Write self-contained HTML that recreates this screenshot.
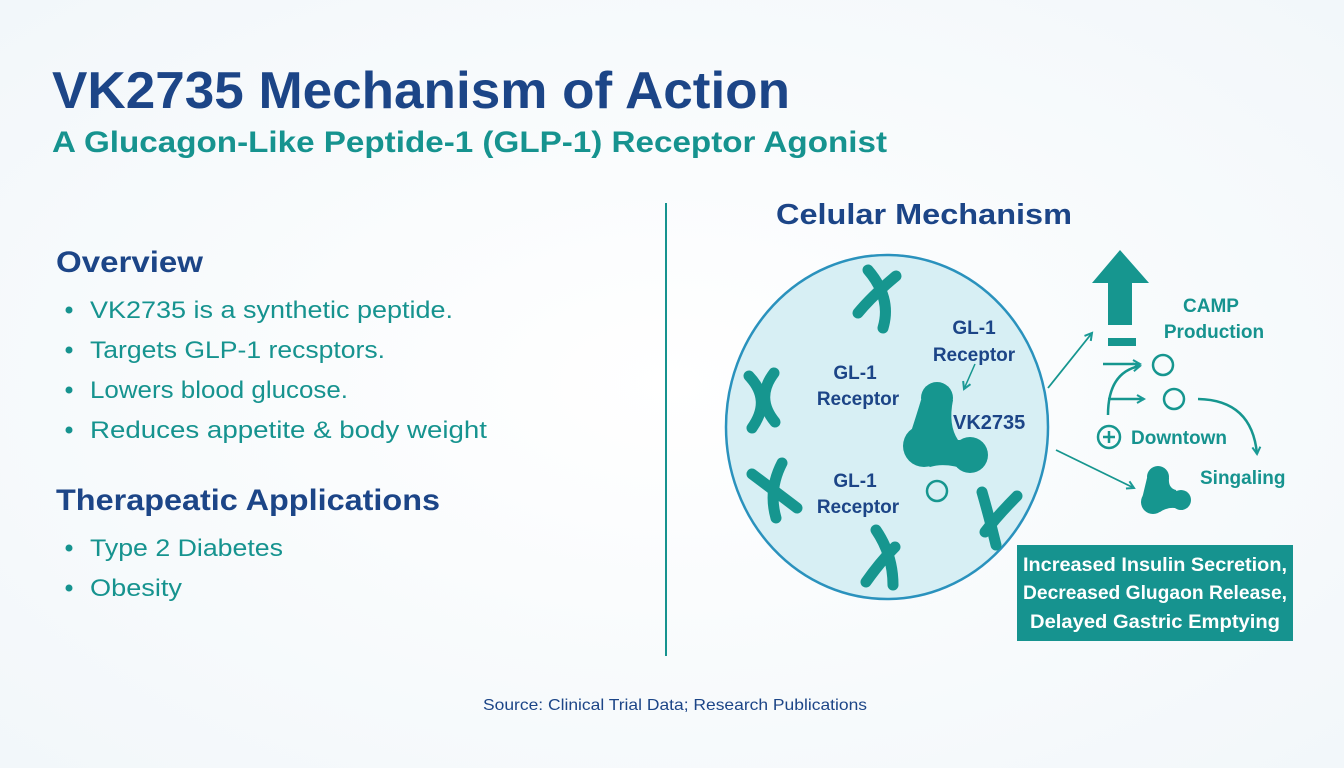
<!DOCTYPE html>
<html><head><meta charset="utf-8"><style>
html,body{margin:0;padding:0;background:#fbfdfe;}
svg{display:block;}
text{font-family:"Liberation Sans",sans-serif;}
</style></head><body>
<svg width="1344" height="768" viewBox="0 0 1344 768" xmlns="http://www.w3.org/2000/svg">
<defs>
<marker id="ah" markerWidth="10" markerHeight="10" refX="8" refY="5" orient="auto" markerUnits="userSpaceOnUse"><path d="M1,1 L8,5 L1,9" fill="none" stroke="#1a9a96" stroke-width="2"/></marker>
<radialGradient id="bg" cx="0.5" cy="0.5" r="0.7"><stop offset="0" stop-color="#ffffff"/><stop offset="1" stop-color="#f2f7fa"/></radialGradient>
</defs>
<rect width="1344" height="768" fill="url(#bg)"/>
<text x="52" y="108" font-size="52" font-weight="bold" fill="#1c4587" textLength="738" lengthAdjust="spacingAndGlyphs">VK2735 Mechanism of Action</text>
<text x="52" y="152" font-size="30" font-weight="bold" fill="#16938f" textLength="835" lengthAdjust="spacingAndGlyphs">A Glucagon-Like Peptide-1 (GLP-1) Receptor Agonist</text>

<text x="56" y="272" font-size="30" font-weight="bold" fill="#1c4587" textLength="147" lengthAdjust="spacingAndGlyphs">Overview</text>
<g fill="#16938f" font-size="24">
<circle cx="69" cy="310" r="3.5"/><text x="90" y="318" textLength="363" lengthAdjust="spacingAndGlyphs">VK2735 is a synthetic peptide.</text>
<circle cx="69" cy="350" r="3.5"/><text x="90" y="358" textLength="295" lengthAdjust="spacingAndGlyphs">Targets GLP-1 recsptors.</text>
<circle cx="69" cy="390" r="3.5"/><text x="90" y="398" textLength="258" lengthAdjust="spacingAndGlyphs">Lowers blood glucose.</text>
<circle cx="69" cy="430" r="3.5"/><text x="90" y="438" textLength="397" lengthAdjust="spacingAndGlyphs">Reduces appetite &amp; body weight</text>
</g>
<text x="56" y="510" font-size="30" font-weight="bold" fill="#1c4587" textLength="384" lengthAdjust="spacingAndGlyphs">Therapeatic Applications</text>
<g fill="#16938f" font-size="24">
<circle cx="69" cy="548" r="3.5"/><text x="90" y="556" textLength="193" lengthAdjust="spacingAndGlyphs">Type 2 Diabetes</text>
<circle cx="69" cy="588" r="3.5"/><text x="90" y="596" textLength="92" lengthAdjust="spacingAndGlyphs">Obesity</text>
</g>
<line x1="666" y1="203" x2="666" y2="656" stroke="#16938f" stroke-width="2"/>

<text x="776" y="224" font-size="29" font-weight="bold" fill="#1c4587" textLength="296" lengthAdjust="spacingAndGlyphs">Celular Mechanism</text>

<ellipse cx="887" cy="427" rx="161" ry="172" fill="#d7eff4" stroke="#2a92bd" stroke-width="2.5"/>

<g fill="none" stroke="#16968f" stroke-width="11" stroke-linecap="round">
<path d="M868,270 Q892,298 883,328"/>
<path d="M896,276 Q872,296 858,313"/>
<path d="M749,376 Q772,400 752,428"/>
<path d="M774,373 Q755,398 775,422"/>
<path d="M752,474 Q780,495 797,508"/>
<path d="M782,463 Q768,490 776,518"/>
<path d="M866,582 Q880,562 895,547"/>
<path d="M876,530 Q893,555 893,585"/>
<path d="M982,492 Q990,520 996,545"/>
<path d="M1017,496 Q998,515 985,532"/>
</g>

<g fill="#16968f">
<circle cx="937" cy="398" r="16"/>
<circle cx="924" cy="446" r="21"/>
<circle cx="970" cy="455" r="18"/>
<path d="M921,400 L953,400 Q948,425 958,440 L975,440 L968,470 Q945,462 930,467 L905,450 Q915,420 921,400 Z"/>
</g>
<g fill="#16968f">
<circle cx="1158" cy="477" r="11"/>
<circle cx="1153" cy="502" r="12"/>
<circle cx="1181" cy="500" r="10"/>
<path d="M1147,478 L1169,478 Q1168,488 1176,490 L1183,510 Q1170,505 1160,512 L1141,503 Z"/>
</g>

<g font-size="19" font-weight="bold" fill="#1c4587" text-anchor="middle">
<text x="974" y="334">GL-1</text><text x="974" y="361">Receptor</text>
<text x="855" y="379">GL-1</text><text x="858" y="405">Receptor</text>
<text x="855" y="487">GL-1</text><text x="858" y="513">Receptor</text>
</g>
<text x="953" y="429" font-size="20" font-weight="bold" fill="#1c4587">VK2735</text>
<line x1="975" y1="364" x2="964" y2="389" stroke="#16968f" stroke-width="1.5" marker-end="url(#ah)"/>
<circle cx="937" cy="491" r="10" fill="none" stroke="#16968f" stroke-width="2.5"/>

<path d="M1092,283 L1120,250 L1149,283 L1132,283 L1132,325 L1108,325 L1108,283 Z" fill="#16968f"/>
<rect x="1108" y="338" width="28" height="8" fill="#16968f"/>
<line x1="1048" y1="388" x2="1092" y2="333" stroke="#16968f" stroke-width="1.8" marker-end="url(#ah)"/>
<line x1="1056" y1="450" x2="1134" y2="488" stroke="#16968f" stroke-width="1.8" marker-end="url(#ah)"/>
<text x="1211" y="312" font-size="19" font-weight="bold" fill="#16938f" text-anchor="middle">CAMP</text>
<text x="1214" y="338" font-size="19" font-weight="bold" fill="#16938f" text-anchor="middle">Production</text>
<g fill="none" stroke="#16968f" stroke-width="2.5">
<circle cx="1163" cy="365" r="10"/><circle cx="1174" cy="399" r="10"/>
<circle cx="1109" cy="437" r="11"/>
<path d="M1103,437 H1115 M1109,431 V443"/>
<path d="M1103,364 H1140" marker-end="url(#ah)"/>
<path d="M1108,415 Q1108,372 1140,366" marker-end="url(#ah)"/>
<path d="M1108,399 H1144" marker-end="url(#ah)"/>
<path d="M1198,399 Q1252,400 1257,454" marker-end="url(#ah)"/>
</g>
<text x="1131" y="444" font-size="19" font-weight="bold" fill="#16938f">Downtown</text>
<text x="1200" y="484" font-size="19" font-weight="bold" fill="#16938f">Singaling</text>

<rect x="1017" y="545" width="276" height="96" fill="#16938f"/>
<g fill="#ffffff" font-size="19" font-weight="bold" text-anchor="middle">
<text x="1155" y="571" textLength="264" lengthAdjust="spacingAndGlyphs">Increased Insulin Secretion,</text>
<text x="1155" y="599" textLength="264" lengthAdjust="spacingAndGlyphs">Decreased Glugaon Release,</text>
<text x="1155" y="628" textLength="250" lengthAdjust="spacingAndGlyphs">Delayed Gastric Emptying</text>
</g>

<text x="675" y="710" font-size="16" fill="#1c4587" text-anchor="middle" textLength="384" lengthAdjust="spacingAndGlyphs">Source: Clinical Trial Data; Research Publications</text>
</svg>
</body></html>
